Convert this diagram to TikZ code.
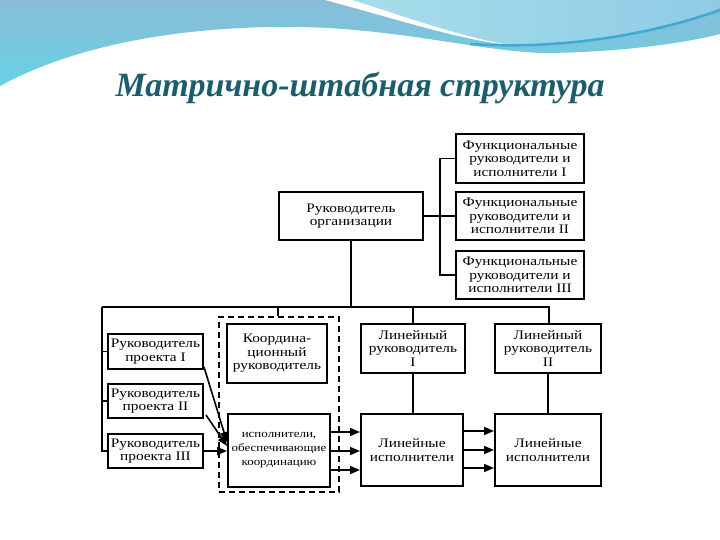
\documentclass[tikz,border=0pt]{standalone}
\usepackage{fontspec}
\setmainfont{Liberation Serif}
\newfontfamily\boxfont[FakeStretch=1.18]{Liberation Serif}
\usetikzlibrary{arrows.meta,fit}
\definecolor{titlecol}{HTML}{1A5E6E}
\definecolor{bandtop}{HTML}{8ABCD6}
\definecolor{bandbot}{HTML}{66D2E6}
\definecolor{lightcy}{HTML}{A8DFEA}
\definecolor{lightcy2}{HTML}{8FCBE6}
\definecolor{strokeblue}{HTML}{3FA9D2}
\tikzset{
  box/.style={draw, line width=2pt, align=center, inner sep=0pt, font=\boxfont\fontsize{13}{13.5}\selectfont},
  conn/.style={line width=1.8pt},
  arr/.style={line width=1.6pt, -{Triangle[length=10pt,width=8pt]}},
  dashbox/.style={draw, line width=1.8pt, dash pattern=on 6pt off 4pt, inner sep=0pt}
}
\begin{document}
\begin{tikzpicture}[x=1pt,y=-1pt]
\useasboundingbox (0,0) rectangle (720,540);
\fill[white] (0,0) rectangle (720,540);
% background band
\shade[top color=bandtop, bottom color=bandbot]
  (0,0) -- (0,86) .. controls (80,42) and (200,22) .. (330,28)
  .. controls (420,34) and (480,50) .. (540,53)
  .. controls (620,53) and (690,42) .. (720,34) -- (720,0) -- cycle;
\shade[left color=lightcy, right color=lightcy2]
  (330,0) .. controls (400,20) and (460,40) .. (510,45)
  .. controls (600,45) and (680,25) .. (720,8) -- (720,0) -- cycle;
\fill[white] (325,0) .. controls (400,20) and (460,40) .. (510,45)
  .. controls (460,37) and (400,15) .. (352,0) -- cycle;
\draw[strokeblue, line width=2.5pt] (470,44) .. controls (560,50) and (650,35) .. (720,10);
% title
\node[text=titlecol, font=\fontsize{34}{36}\selectfont\bfseries\itshape] (title) at (360,88) {Матрично-штабная структура};
% boxes
\node[box, minimum width=144pt, minimum height=48pt] (org) at (351,216) {Руководитель\\организации};
\node[box, minimum width=128pt, minimum height=49pt] (f1) at (520,158.5) {Функциональные\\руководители и\\исполнители I};
\node[box, minimum width=128pt, minimum height=48pt] (f2) at (520,216) {Функциональные\\руководители и\\исполнители II};
\node[box, minimum width=128pt, minimum height=48pt] (f3) at (520,275) {Функциональные\\руководители и\\исполнители III};
\node[box, minimum width=95pt, minimum height=35pt] (pm1) at (155.5,351.5) {Руководитель\\проекта I};
\node[box, minimum width=95pt, minimum height=34pt] (pm2) at (155.5,401) {Руководитель\\проекта II};
\node[box, minimum width=95pt, minimum height=34pt] (pm3) at (155.5,451) {Руководитель\\проекта III};
\node[box, minimum width=100pt, minimum height=59pt] (coord) at (277,353.5) {Координа-\\ционный\\руководитель};
\node[box, minimum width=102pt, minimum height=73pt, font=\boxfont\fontsize{11}{14}\selectfont] (exec) at (279,450.5) {исполнители,\\обеспечивающие\\координацию};
\node[box, minimum width=104pt, minimum height=49pt] (lm1) at (413,348.5) {Линейный\\руководитель\\I};
\node[box, minimum width=106pt, minimum height=49pt] (lm2) at (548,348.5) {Линейный\\руководитель\\II};
\node[box, minimum width=102pt, minimum height=72pt] (le1) at (412,450) {Линейные\\исполнители};
\node[box, minimum width=106pt, minimum height=72pt] (le2) at (548,450) {Линейные\\исполнители};
\coordinate (dtl) at (219,317);
\coordinate (dbr) at (339,492);
\node[dashbox, fit=(dtl)(dbr)] (dash) {};
% connectors: functional
\coordinate (b1) at (440,158.5);
\coordinate (b3) at (440,275);
\draw[conn] (f1.west) -- (b1) -- (b3) -- (f3.west);
\draw[conn] (org.east) -- (f2.west);
% main bus
\coordinate (L0) at (102,307);
\coordinate (R0) at (549,307);
\draw[conn] (org.south) -- (org.south |- L0);
\draw[conn] (L0) -- (R0) -- (lm2.north -| R0);
\draw[conn] (L0) -- (L0 |- pm3.west) -- (pm3.west);
\draw[conn] (L0 |- pm1.west) -- (pm1.west);
\draw[conn] (L0 |- pm2.west) -- (pm2.west);
\draw[conn] (278,307) -- (dash.north -| 278,0);
\draw[conn] (lm1.north |- L0) -- (lm1.north);
\draw[conn] (lm1.south) -- (le1.north -| lm1.south);
\draw[conn] (lm2.south) -- (le2.north);
% arrows
\draw[arr] ([yshift=3pt]pm1.south east) -- ([yshift=8.5pt]exec.west);
\draw[arr] ([xshift=2pt,yshift=4pt]pm2.south east) -- ([yshift=4.5pt]exec.west);
\draw[arr] (pm3.east) -- (pm3.east -| exec.west);
\foreach \dy in {-18.5,0.5,19.5} {
  \draw[arr] ([yshift=-\dy pt]exec.east) -- ([yshift=-\dy pt]exec.east -| le1.west);
}
\foreach \dy in {-19,0,18} {
  \draw[arr] ([yshift=-\dy pt]le1.east) -- ([yshift=-\dy pt]le1.east -| le2.west);
}
\end{tikzpicture}
\end{document}
